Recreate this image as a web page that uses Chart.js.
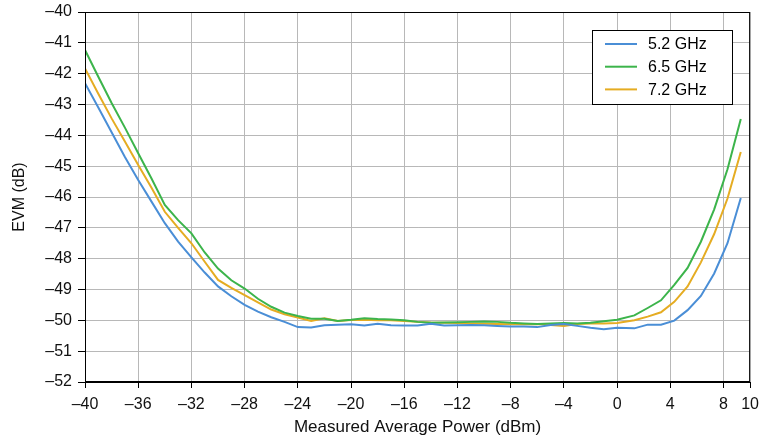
<!DOCTYPE html>
<html>
<head>
<meta charset="utf-8">
<script src="https://cdn.jsdelivr.net/npm/chart.js@4/dist/chart.umd.min.js"></script>
<style>
  html, body { margin: 0; padding: 0; background: #fff; }
  #wrap { width: 766px; height: 440px; }
</style>
</head>
<body>
<div id="wrap"><canvas id="evm_chart"></canvas></div>
<script>
// measured average power (dBm)
const powerDbm = [-40, -39, -38, -37, -36, -35, -34, -33, -32, -31, -30, -29, -28, -27, -26, -25,
  -24, -23, -22, -21, -20, -19, -18, -17, -16, -15, -14, -13, -12, -11, -10, -9, -8, -7, -6, -5,
  -4, -3, -2, -1, 0, 1.3, 2.3, 3.3, 4.3, 5.3, 6.3, 7.3, 8.3, 9.3]

const evm52 = [-42.31, -43.1, -43.9, -44.7, -45.45, -46.15, -46.85, -47.45, -47.96, -48.45, -48.9, -49.22,
  -49.5, -49.72, -49.9, -50.05, -50.22, -50.23, -50.16, -50.14, -50.13, -50.17, -50.11, -50.16, -50.17,
  -50.17, -50.11, -50.17, -50.16, -50.15, -50.16, -50.18, -50.2, -50.2, -50.22, -50.15, -50.12, -50.18,
  -50.24, -50.29, -50.24, -50.26, -50.14, -50.14, -50.01, -49.67, -49.21, -48.48, -47.5, -46.03]

const evm65 = [-41.23, -42.1, -42.95, -43.75, -44.58, -45.4, -46.26, -46.75, -47.18, -47.8, -48.32, -48.7,
  -48.97, -49.3, -49.56, -49.75, -49.86, -49.95, -49.95, -50.02, -49.98, -49.93, -49.96, -49.97, -50.0,
  -50.05, -50.08, -50.07, -50.06, -50.05, -50.04, -50.05, -50.08, -50.1, -50.12, -50.1, -50.09, -50.1,
  -50.08, -50.03, -49.98, -49.84, -49.6, -49.35, -48.85, -48.3, -47.45, -46.4, -45.1, -43.47]

const evm72 = [-41.83, -42.65, -43.45, -44.2, -44.96, -45.7, -46.48, -47.0, -47.5, -48.1, -48.69, -48.95,
  -49.18, -49.42, -49.65, -49.8, -49.91, -50.02, -49.93, -50.02, -49.99, -49.98, -50.0, -50.0, -50.02,
  -50.05, -50.07, -50.08, -50.09, -50.1, -50.11, -50.12, -50.13, -50.13, -50.12, -50.15, -50.18, -50.12,
  -50.1, -50.1, -50.09, -50.0, -49.88, -49.74, -49.4, -48.9, -48.12, -47.2, -46.05, -44.54]

const seriesNames = ['5.2 GHz', '6.5 GHz', '7.2 GHz']
const xTicks = [-40, -36, -32, -28, -24, -20, -16, -12, -8, -4, 0, 4, 8, 10]

const colors = {
  blue: '#4a8ed6',
  green: '#3cb44b',
  orange: '#e5ac22'
}
const FONT = "'Liberation Sans', Arial, sans-serif"

const toPoints = (ys) => ys.map((y, i) => ({ x: powerDbm[i], y: y }))
const minus = (v) => (v < 0 ? '\u2013' + Math.abs(v) : String(v))

// black frame around the plot + legend box in the upper right
const framePlugin = {
  id: 'frame',
  afterDraw(chart) {
    const { ctx, chartArea: a } = chart
    ctx.save()
    ctx.strokeStyle = '#000'
    ctx.lineWidth = 1
    ctx.strokeRect(a.left + 0.5, a.top + 0.5, a.right - a.left - 1, a.bottom - a.top - 1)

    const bx = 592, by = 30, bw = 140, bh = 74
    ctx.fillStyle = '#fff'
    ctx.fillRect(bx, by, bw, bh)
    ctx.strokeRect(bx + 0.5, by + 0.5, bw, bh)
    ctx.font = '16px ' + FONT
    ctx.textBaseline = 'middle'
    chart.data.datasets.forEach((ds, i) => {
      const y = by + 14 + i * 22.7
      ctx.strokeStyle = ds.borderColor
      ctx.lineWidth = 2
      ctx.beginPath()
      ctx.moveTo(605, y)
      ctx.lineTo(637, y)
      ctx.stroke()
      ctx.fillStyle = '#000'
      ctx.fillText(ds.label, 648, y + 1)
    })
    ctx.restore()
  }
}

document.addEventListener('DOMContentLoaded', () => {
  const ctx = document.getElementById('evm_chart')
  new Chart(ctx, {
    type: 'line',
    data: {
      datasets: [
        { label: seriesNames[0], data: toPoints(evm52), borderColor: colors.blue },
        { label: seriesNames[1], data: toPoints(evm65), borderColor: colors.green },
        { label: seriesNames[2], data: toPoints(evm72), borderColor: colors.orange }
      ].map((d) => Object.assign(d, { borderWidth: 2, pointRadius: 0, tension: 0, fill: false }))
    },
    options: {
      responsive: true,
      maintainAspectRatio: false,
      animation: false,
      layout: { padding: { top: 12, right: 11, left: 0, bottom: 0 } },
      plugins: {
        legend: { display: false },
        tooltip: { enabled: false }
      },
      scales: {
        x: {
          type: 'linear',
          min: -40,
          max: 10,
          afterBuildTicks: (scale) => { scale.ticks = xTicks.map((v) => ({ value: v })) },
          afterFit: (scale) => { scale.height = 58 },
          ticks: {
            autoSkip: false,
            maxRotation: 0,
            padding: 7,
            color: '#111',
            font: { family: FONT, size: 16 },
            callback: (v) => minus(v)
          },
          grid: { color: '#b8b8b8', tickColor: '#000', tickLength: 6 },
          border: { color: '#000' },
          title: {
            display: true,
            text: 'Measured Average Power (dBm)',
            color: '#111',
            font: { family: FONT, size: 17 },
            padding: { top: 2, bottom: 2 }
          }
        },
        y: {
          min: -52,
          max: -40,
          afterFit: (scale) => {
            scale.width = 85
            scale.paddingTop = 0
            scale.paddingBottom = 0
          },
          ticks: {
            stepSize: 1,
            padding: 6,
            color: '#111',
            font: { family: FONT, size: 16 },
            callback: (v) => minus(v)
          },
          grid: { color: '#b8b8b8', tickColor: '#000', tickLength: 7 },
          border: { color: '#000' },
          title: {
            display: true,
            text: 'EVM (dB)',
            color: '#111',
            font: { family: FONT, size: 16 },
            padding: { top: 10, bottom: 0 }
          }
        }
      }
    },
    plugins: [framePlugin]
  })
})
</script>
</body>
</html>
